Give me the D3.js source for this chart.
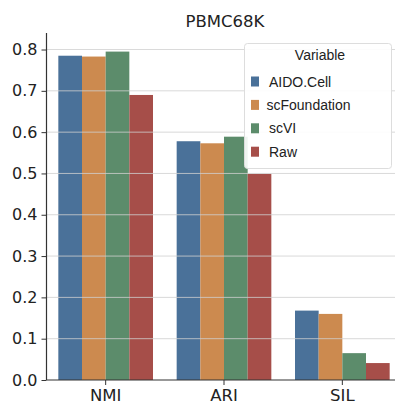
<!DOCTYPE html>
<html>
<head>
<meta charset="utf-8">
<script src="https://cdn.jsdelivr.net/npm/d3@7"></script>
<style>
  body { margin: 0; background: #fff; }
  text { font-family: "DejaVu Sans", sans-serif; fill: #222; }
  .legend text { font-family: "Liberation Sans", Arial, sans-serif; }
</style>
</head>
<body>
<div id="chart"></div>
<script>
const metrics = ["NMI", "ARI", "SIL"];
const methods = ["AIDO.Cell", "scFoundation", "scVI", "Raw"];
const colors = ["#4a7199", "#cc8a4f", "#5c8c6b", "#a64e49"];
const aidoVals = [0.785, 0.578, 0.168];
const scfVals = [0.783, 0.573, 0.160];
const scviVals = [0.795, 0.589, 0.065];
const rawVals = [0.690, 0.499, 0.041];
const yTicks = [0, 0.1, 0.2, 0.3, 0.4, 0.5, 0.6, 0.7, 0.8];

(function() {
  const W = 395, H = 404;
  const seriesVals = [aidoVals, scfVals, scviVals, rawVals];

  const svg = d3.select("#chart").append("svg")
    .attr("width", W).attr("height", H);

  const x = d3.scaleBand().domain(metrics).range([46.5, 401.5]).paddingInner(0).paddingOuter(0);
  const xInner = d3.scaleBand().domain(methods).range([x.bandwidth() * 0.1, x.bandwidth() * 0.9]);
  const y = d3.scaleLinear().domain([0, 0.84]).range([380, 33]);

  const cells = metrics.flatMap((m, i) => methods.map((s, j) => ({
    metric: m, method: s, value: seriesVals[j][i], color: colors[j]
  })));

  svg.append("g").selectAll("rect")
    .data(cells)
    .join("rect")
    .attr("x", d => x(d.metric) + xInner(d.method))
    .attr("y", d => y(d.value))
    .attr("width", xInner.bandwidth())
    .attr("height", d => y(0) - y(d.value))
    .attr("fill", d => d.color);

  // grid on top of bars, like the original
  svg.append("g").selectAll("line")
    .data(yTicks.filter(t => t > 0))
    .join("line")
    .attr("x1", 46.5).attr("x2", W)
    .attr("y1", d => y(d)).attr("y2", d => y(d))
    .attr("stroke", "#cfcfcf").attr("stroke-opacity", 0.8).attr("stroke-width", 1);

  const yAxis = svg.append("g")
    .attr("transform", "translate(46.5,0)")
    .call(d3.axisLeft(y).tickValues(yTicks).tickFormat(d3.format(".1f")).tickSize(5).tickPadding(4));
  yAxis.select(".domain").attr("d", `M0,${y(0)}V33`).attr("stroke", "#333").attr("stroke-width", 1.2);
  yAxis.selectAll(".tick line").attr("stroke", "#333");
  yAxis.selectAll(".tick text").style("font-size", "16px").attr("fill", "#222");

  const xAxis = svg.append("g")
    .attr("transform", `translate(0,${y(0)})`)
    .call(d3.axisBottom(x).tickSize(5).tickPadding(4));
  xAxis.select(".domain").attr("d", `M46.5,0H${W}`).attr("stroke", "#333").attr("stroke-width", 1.2);
  xAxis.selectAll(".tick line").attr("stroke", "#333");
  xAxis.selectAll(".tick text").style("font-size", "16.5px").attr("fill", "#222");

  svg.append("text")
    .attr("x", 225).attr("y", 27)
    .attr("text-anchor", "middle")
    .style("font-size", "16.5px")
    .text("PBMC68K");

  // legend
  const lg = svg.append("g").attr("class", "legend");
  lg.append("rect")
    .attr("x", 244.5).attr("y", 43.5).attr("width", 147).attr("height", 125)
    .attr("rx", 3).attr("fill", "#fff").attr("fill-opacity", 0.9)
    .attr("stroke", "#ddd");
  lg.append("text")
    .attr("x", 320).attr("y", 60)
    .attr("text-anchor", "middle")
    .style("font-size", "14px")
    .text("Variable");
  const rows = lg.selectAll("g.row")
    .data(methods)
    .join("g")
    .attr("class", "row")
    .attr("transform", (d, i) => `translate(0,${81.5 + i * 23.4})`);
  rows.append("rect")
    .attr("x", 251).attr("y", -5).attr("width", 8).attr("height", 10)
    .attr("fill", (d, i) => colors[i]);
  rows.append("text")
    .attr("x", (d, i) => i === 1 ? 266.5 : 269).attr("y", 5)
    .style("font-size", "14px")
    .text(d => d);
})();
</script>
</body>
</html>
